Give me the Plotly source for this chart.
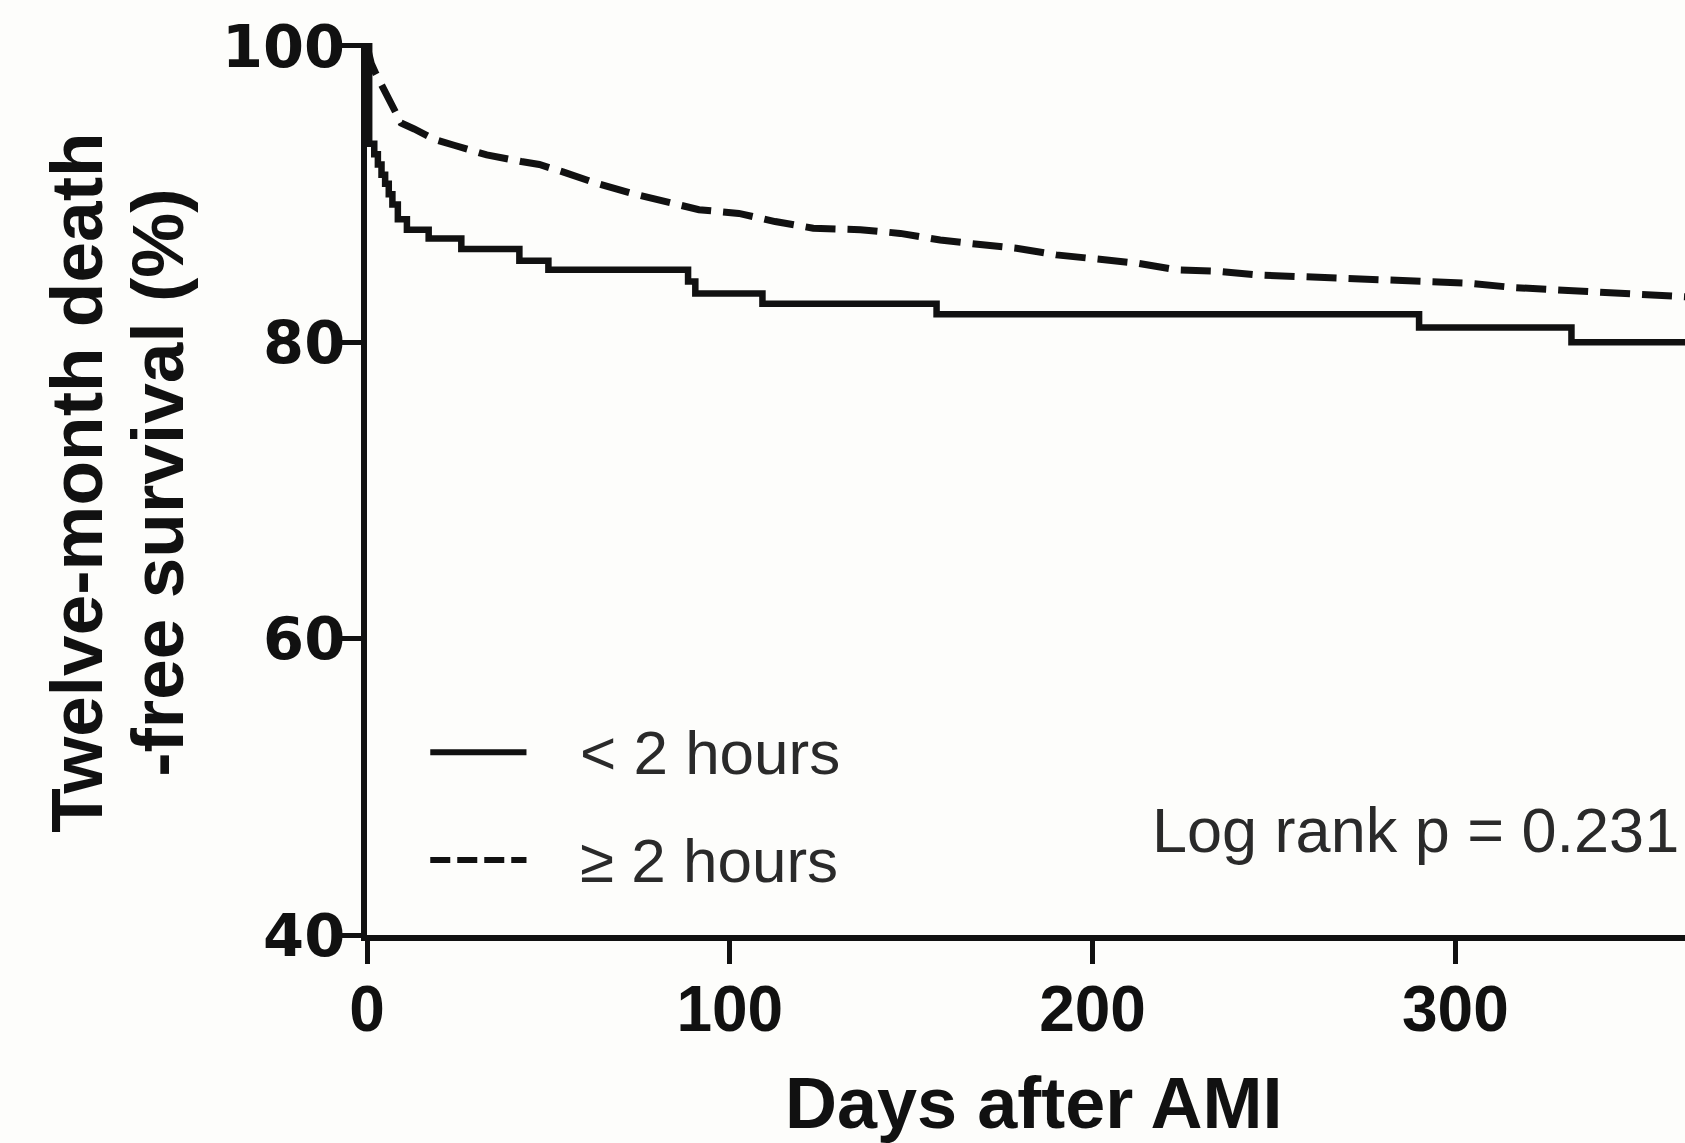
import plotly.graph_objects as go

# Kaplan-Meier estimates: death-free survival (%) by day after AMI
days_lt2 = [0, 0.6, 2, 3, 4, 5, 6, 7, 8.5, 11, 17, 26, 42, 50, 88.5, 90.5, 109, 157, 290, 332, 365]
surv_lt2 = [100, 93.4, 92.7, 92.0, 91.3, 90.7, 90.0, 89.3, 88.3, 87.6, 87.0, 86.3, 85.5, 84.9, 84.1, 83.3, 82.6, 81.9, 81.0, 80.0, 80.0]

days_ge2 = [0, 0.5, 1.2, 2.5, 3.5, 4.8, 6, 7.5, 9.4, 13, 18.6, 24, 33, 42.5, 47.5, 54, 63, 73,
            82.5, 91.5, 102.5, 112.5, 123, 136, 147, 158, 169, 179, 190, 201, 212, 223, 234,
            245, 257, 268, 280, 292, 303, 316, 327, 339, 350, 360, 365]
surv_ge2 = [100, 99.5, 98.8, 98.1, 97.6, 97.0, 96.3, 95.6, 94.8, 94.4, 93.7, 93.3, 92.65, 92.2, 92.0, 91.5, 90.75, 90.05,
            89.5, 88.95, 88.7, 88.15, 87.7, 87.6, 87.35, 86.9, 86.6, 86.35, 85.9, 85.65, 85.35, 84.9, 84.8,
            84.55, 84.45, 84.25, 84.15, 84.1, 84.0, 83.7, 83.55, 83.4, 83.3, 83.05, 83.05]

group_names = ["< 2 hours", "≥ 2 hours"]
x_ticks = [0, 100, 200, 300]
y_ticks = [40, 60, 80, 100]
x_title = "Days after AMI"
y_title_lines = ["Twelve-month death", "-free survival (%)"]
p_text = "Log rank p = 0.231"

FONT = "Liberation Sans, Arial, sans-serif"
WIDE = "DejaVu Sans, Verdana, sans-serif"
INK = "#111111"
DASH = "30px,12px"

fig = go.Figure()
fig.add_trace(go.Scatter(x=days_lt2, y=surv_lt2, mode="lines", name=group_names[0],
                         line=dict(color=INK, width=6.5, shape="hv"), showlegend=False))
# the later group has many small, closely spaced drops, so its steps read as a slope
fig.add_trace(go.Scatter(x=days_ge2, y=surv_ge2, mode="lines", name=group_names[1],
                         line=dict(color=INK, width=7, shape="linear", dash=DASH), showlegend=False))

axis_common = dict(showline=True, linewidth=6, linecolor=INK, ticks="outside",
                   ticklen=23, tickwidth=5, tickcolor=INK, showgrid=False, zeroline=False)

fig.update_xaxes(range=[0, 363.3], tickvals=x_ticks, ticklabelstandoff=-10,
                 tickfont=dict(family=FONT, size=64, color=INK, weight="bold"), **axis_common)
fig.update_yaxes(range=[40, 100.2], tickvals=y_ticks, ticklabelstandoff=-19,
                 tickfont=dict(family=WIDE, size=59, color=INK, weight="bold"), **axis_common)

# hand-placed key: line samples + labels
key_x0, key_x1 = 0.048, 0.121
key_rows = [(0.205, None), (0.084, "20px,7px")]
for (ky, dash), label in zip(key_rows, group_names):
    fig.add_shape(type="line", xref="paper", yref="paper", x0=key_x0, x1=key_x1, y0=ky, y1=ky,
                  line=dict(color=INK, width=6, dash=dash or "solid"))
    fig.add_annotation(xref="paper", yref="paper", x=0.160, y=ky, xanchor="left", yanchor="middle",
                       text=label.replace("<", "&lt;"), showarrow=False,
                       font=dict(family=FONT, size=62, color="#2a2a2a"))

fig.add_annotation(xref="paper", yref="paper", x=0.997, y=0.118, xanchor="right", yanchor="middle",
                   text=p_text, showarrow=False, font=dict(family=FONT, size=63, color="#2a2a2a"))

fig.add_annotation(xref="paper", yref="paper", x=0.506, y=-0.188, xanchor="center", yanchor="middle",
                   text=x_title, showarrow=False,
                   font=dict(family=FONT, size=72, color=INK, weight="bold"))

# two-line rotated y title, lines set a bit tighter than the default line height
for line, px in zip(y_title_lines, [77, 158]):
    fig.add_annotation(xref="paper", yref="paper", x=(px - 367) / 1318, y=0.507,
                       xanchor="center", yanchor="middle", text=line, textangle=-90,
                       showarrow=False, font=dict(family=FONT, size=73, color=INK, weight="bold"))

fig.update_layout(width=1685, height=1143, margin=dict(l=367, r=0, t=43, b=208),
                  paper_bgcolor="#fdfdfb", plot_bgcolor="#fdfdfb", showlegend=False)

fig.write_html("out.html")
